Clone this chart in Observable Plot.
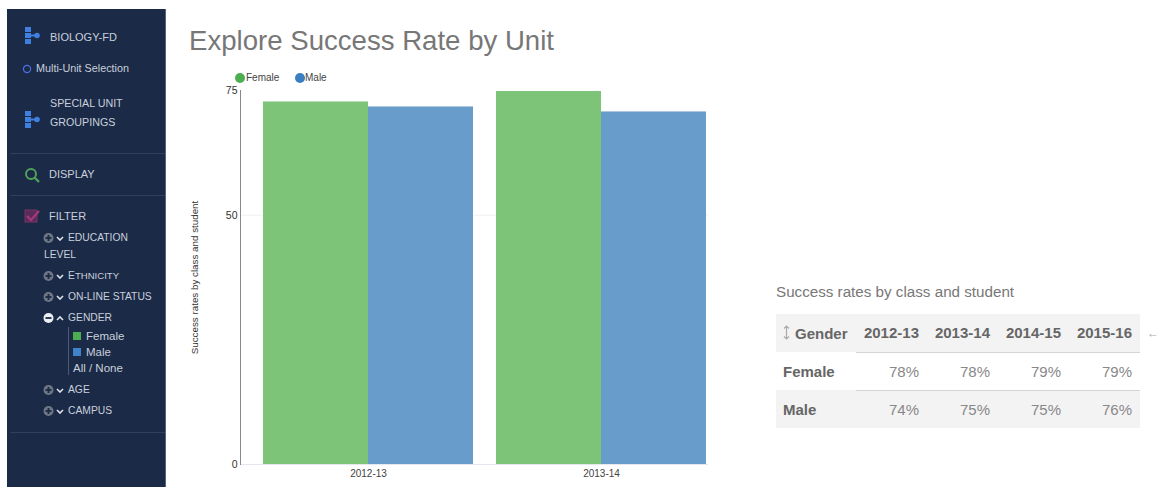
<!DOCTYPE html>
<html><head><meta charset="utf-8">
<script src="https://cdn.jsdelivr.net/npm/d3@7"></script>
<script src="https://cdn.jsdelivr.net/npm/@observablehq/plot@0.6"></script>
<style>
html,body{margin:0;padding:0;background:#fff;width:1160px;height:487px;overflow:hidden;font-family:"Liberation Sans",Arial,sans-serif}
.abs{position:absolute;white-space:nowrap}
#side{position:absolute;left:7px;top:9px;width:158px;height:478px;background:#1b2a47;border-right:1px solid #5a6478}
.s{position:absolute;white-space:nowrap;color:#c9d0dc;line-height:12px;transform:translateY(-50%)}
.s svg{display:block}
.hr{position:absolute;height:1px;background:#2f3f5c}
#title{left:189px;top:24px;font-size:27.6px;line-height:34px;color:#777}
#chart{position:absolute;left:180px;top:80px}
#chart svg{display:block;overflow:hidden}
.lg{position:absolute;font-size:10px;color:#444;line-height:12px}
.dot{position:absolute;width:10px;height:10px;border-radius:50%}
#tt{left:776px;top:284px;font-size:15.2px;line-height:16px;color:#777}
table{position:absolute;left:776px;top:314px;width:364px;border-collapse:collapse;table-layout:fixed;color:#666;font-size:15px}
td,th{padding:0 8px 0 0;text-align:right;font-weight:normal}
td{color:#888}
th{font-weight:bold}
tr{height:38px}
tr.g{background:#f3f3f3}
td:first-child,th:first-child{text-align:left;padding-left:7px;font-weight:bold;color:#666}
th:first-child{padding-left:19px;position:relative}
th svg{position:absolute;left:7px;top:11px}
tr+tr td:not(:first-child){border-top:1px solid #d4d4d4}
#arrow{left:1147px;top:325px;font-size:12px;color:#aaa;line-height:16px}
</style></head><body>
<div id="side"></div>
<div class="abs" id="title">Explore Success Rate by Unit</div>
<div class="dot" style="left:235px;top:73px;background:#4cae50"></div><div class="lg" style="left:246px;top:72px">Female</div>
<div class="dot" style="left:295px;top:73px;background:#3a7fc1"></div><div class="lg" style="left:305px;top:72px">Male</div>
<div id="chart"></div>
<div class="abs" id="tt">Success rates by class and student</div>
<table id="tb"></table>
<div class="abs" id="arrow">←</div>
<script>
const years = ["2012-13","2013-14"];
const femaleRate = [72.7,74.8];
const maleRate = [71.7,70.7];
const yTicks = [0,50,75];
const tableYears = ["2012-13","2013-14","2014-15","2015-16"];
const tableFemale = ["78%","78%","79%","79%"];
const tableMale = ["74%","75%","75%","76%"];
const sideItems = [
 ["BIOLOGY-FD",50,37,11],["Multi-Unit Selection",36,68,10.8],["SPECIAL UNIT",50,103,10.7],["GROUPINGS",50,122,10.7],
 ["DISPLAY",49,174,11],["FILTER",49,216,11],["EDUCATION",68,238,10.3],["LEVEL",44,255,10.3],["ETHNICITY",68,276,10.3],
 ["ON-LINE STATUS",68,297,10.3],["GENDER",68,318,10.3],["Female",86,336,11.5],["Male",86,352,11.5],["All / None",73,368,11.5],
 ["AGE",68,390,10.3],["CAMPUS",68,411,10.3]];

const female = years.map((y,i)=>({year:y,gender:"Female",value:femaleRate[i]}));
const male = years.map((y,i)=>({year:y,gender:"Male",value:maleRate[i]}));
const half = 105;
const plot = Plot.plot({
  width:528,height:409,marginTop:10,marginBottom:25,marginLeft:60,marginRight:0,
  style:{fontFamily:"Liberation Sans, Arial, sans-serif",background:"transparent"},
  x:{domain:years,range:[60,549],paddingInner:0.0987,paddingOuter:0.0987,label:null},
  y:{domain:[0,75],label:null},
  color:{domain:["Female","Male"],range:["#7dc478","#689dcb"]},
  marks:[
    Plot.ruleY([50],{stroke:"#f0f0f0"}),
    Plot.ruleY([0],{stroke:"#e4e8ee"}),
    Plot.barY(female,{x:"year",y:"value",fill:"gender",insetRight:half}),
    Plot.barY(male,{x:"year",y:"value",fill:"gender",insetLeft:half}),
    Plot.frame({anchor:"left",stroke:"#888"}),
    Plot.axisY({ticks:yTicks,tickSize:0,tickPadding:3,fontSize:10.5,color:"#333",label:null}),
    Plot.axisX({tickSize:0,tickPadding:5,fontSize:10,color:"#444",label:null}),
    Plot.text(["Success rates by class and student"],{frameAnchor:"left",textAnchor:"middle",dx:-46,rotate:-90,fontSize:9.8,fill:"#333"})
  ]
});
document.getElementById("chart").appendChild(plot);

const side = document.getElementById("side");
const add = (html,x,y,fs)=>{const d=document.createElement("div");d.className="s";d.style.left=(x-7)+"px";d.style.top=(y-9)+"px";if(fs)d.style.fontSize=fs+"px";d.innerHTML=html;side.appendChild(d);return d;};
sideItems.forEach(([t,x,y,fs])=>add(t==="ETHNICITY"?'E<span style="font-size:9.6px">THNICITY</span>':t,x,y,fs));
[153,195,432].forEach(y=>{const h=document.createElement("div");h.className="hr";h.style.left="3px";h.style.width="155px";h.style.top=(y-9)+"px";side.appendChild(h);});
const tree=`<svg width="18" height="18" viewBox="0 0 18 18"><rect x="1" y="0" width="6" height="5" fill="#3f7fe0"/><rect x="1" y="6" width="6" height="5" fill="#3f7fe0"/><rect x="1" y="12" width="6" height="5" fill="#3f7fe0"/><rect x="7" y="7.5" width="4" height="2" fill="#3f7fe0"/><circle cx="13" cy="8.5" r="2.8" fill="#3f7fe0"/></svg>`;
add(tree,24,36);add(tree,24,120);
add(`<svg width="10" height="10"><circle cx="5" cy="5" r="3.6" fill="none" stroke="#4a6fe0" stroke-width="1.2"/></svg>`,22,69);
add(`<svg width="18" height="18"><circle cx="8" cy="8" r="5" fill="none" stroke="#4fa35a" stroke-width="2"/><line x1="11.5" y1="11.5" x2="16" y2="16" stroke="#4fa35a" stroke-width="2.4"/></svg>`,23,175);
add(`<svg width="18" height="14"><rect x="1" y="1" width="12" height="12" fill="#5a2c58" stroke="#7a3268"/><path d="M3 7 L7 11 L15 2" fill="none" stroke="#a83a7c" stroke-width="2"/></svg>`,24,216);
const plus=(c,open)=>`<svg width="11" height="11"><circle cx="5.5" cy="5.5" r="5" fill="${c}"/><rect x="2.5" y="4.6" width="6" height="1.8" fill="#1b2a47"/>${open?"":'<rect x="4.6" y="2.5" width="1.8" height="6" fill="#1b2a47"/>'}</svg>`;
const chev=(up)=>`<svg width="8" height="6"><path d="${up?"M1 5 L4 2 L7 5":"M1 2 L4 5 L7 2"}" fill="none" stroke="#dfe3ea" stroke-width="1.6"/></svg>`;
[[238,0],[276,0],[297,0],[318,1],[390,0],[411,0]].forEach(([y,o])=>{add(plus(o?"#eceff3":"#6f7684",o),43,y);add(chev(o),56,y);});
add(`<span style="display:block;width:8px;height:8px;background:#4cae50"></span>`,73,336);
add(`<span style="display:block;width:8px;height:8px;background:#3f84c8"></span>`,73,352);
const bar=document.createElement("div");bar.style.cssText="position:absolute;left:61px;top:318px;width:1px;height:48px;background:#4d5a75";side.appendChild(bar);

const sortIcon=`<svg width="7" height="15"><path d="M3.5 1 V14 M1 3.5 L3.5 1 L6 3.5 M1 11.5 L3.5 14 L6 11.5" fill="none" stroke="#aaa" stroke-width="1.2"/></svg>`;
document.getElementById("tb").innerHTML=
 `<colgroup><col style="width:80px">${tableYears.map(()=>'<col style="width:71px">').join("")}</colgroup>`+
 `<tr class="g"><th>${sortIcon}Gender</th>${tableYears.map(y=>`<th>${y}</th>`).join("")}</tr>`+
 `<tr><td>Female</td>${tableFemale.map(v=>`<td>${v}</td>`).join("")}</tr>`+
 `<tr class="g"><td>Male</td>${tableMale.map(v=>`<td>${v}</td>`).join("")}</tr>`;
</script>
</body></html>
